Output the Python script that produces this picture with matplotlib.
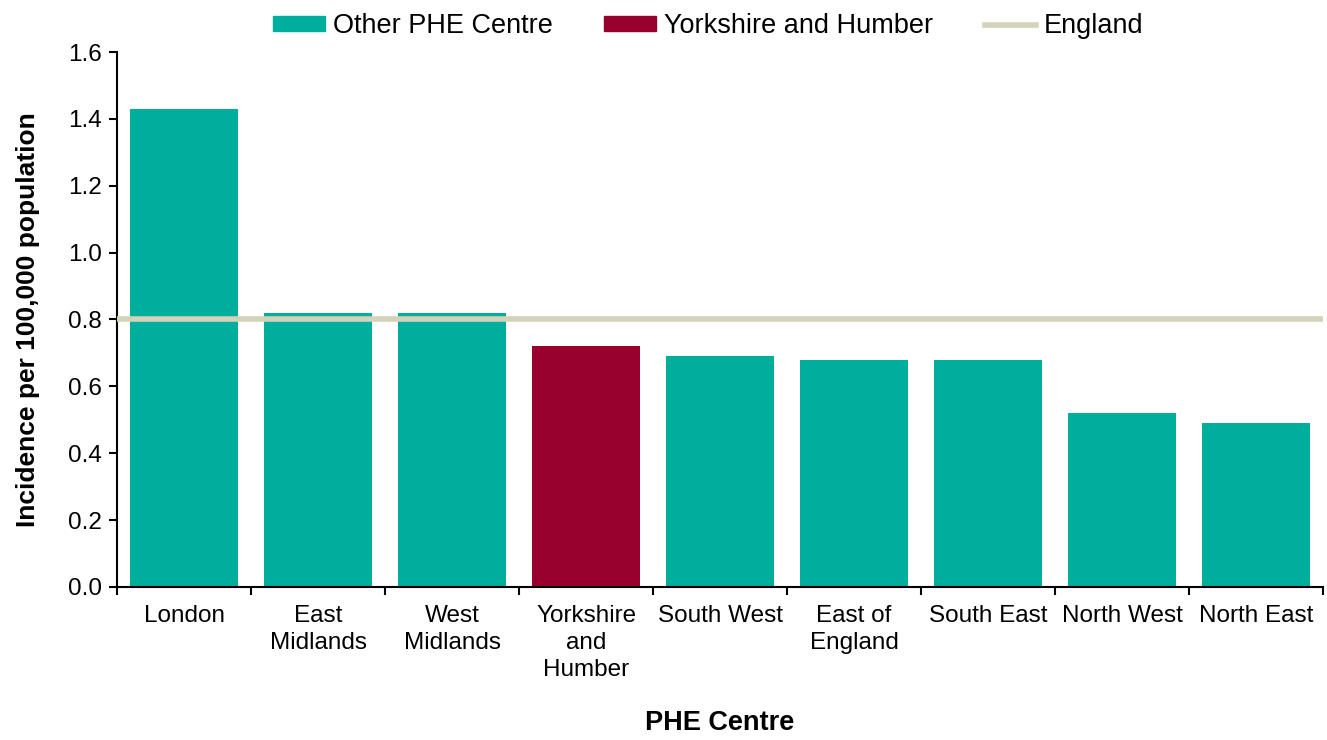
import numpy as np
import matplotlib.pyplot as plt
from matplotlib.patches import Patch
from matplotlib.lines import Line2D

plt.rcParams['font.family'] = ['Liberation Sans', 'DejaVu Sans']

centres = ['London', 'East\nMidlands', 'West\nMidlands', 'Yorkshire\nand\nHumber',
           'South West', 'East of\nEngland', 'South East', 'North West', 'North East']
incidence = [1.43, 0.82, 0.82, 0.72, 0.69, 0.68, 0.68, 0.52, 0.49]
england = 0.80
highlight = 'Yorkshire\nand\nHumber'

teal = '#00AE9E'
red = '#98002E'
line_col = '#D4D2B9'

fig = plt.figure(figsize=(13.27, 7.4), dpi=100)
ax = fig.add_axes([0.0882, 0.2068, 0.9088, 0.7229])

x = np.arange(len(centres))
colors = [red if c == highlight else teal for c in centres]
ax.bar(x, incidence, width=0.8, color=colors, zorder=2)
ax.axhline(england, color=line_col, lw=4, zorder=3)

ax.set_xlim(-0.5, len(centres) - 0.5)
ax.set_ylim(0, 1.6)
ax.set_yticks(np.arange(0, 1.61, 0.2))
ax.set_yticklabels(['%.1f' % v for v in np.arange(0, 1.61, 0.2)], fontsize=17.5)
ax.set_xticks(x)
ax.set_xticklabels(centres, fontsize=17.5, linespacing=1.3)
ax.set_xticks(np.arange(-0.5, len(centres), 1), minor=True)
ax.tick_params(axis='x', which='major', length=0, pad=13)
ax.tick_params(axis='x', which='minor', length=6, width=1.5, direction='out')
ax.tick_params(axis='y', length=6, width=1.5, direction='out', pad=5)

for s in ['top', 'right']:
    ax.spines[s].set_visible(False)
for s in ['left', 'bottom']:
    ax.spines[s].set_linewidth(1.5)

ax.set_ylabel('Incidence per 100,000 population', fontsize=19, fontweight='bold', labelpad=20)
ax.set_xlabel('PHE Centre', fontsize=19.5, fontweight='bold', labelpad=21)

handles = [Patch(color=teal, label='Other PHE Centre'),
           Patch(color=red, label='Yorkshire and Humber'),
           Line2D([0], [0], color=line_col, lw=4, label='England')]
fig.legend(handles=handles, loc='upper center', bbox_to_anchor=(0.534, 1.015), ncol=3,
           frameon=False, fontsize=19.5, handlelength=1.9, handleheight=0.5,
           handletextpad=0.3, columnspacing=1.9)

fig.savefig('out.png', dpi=100)
